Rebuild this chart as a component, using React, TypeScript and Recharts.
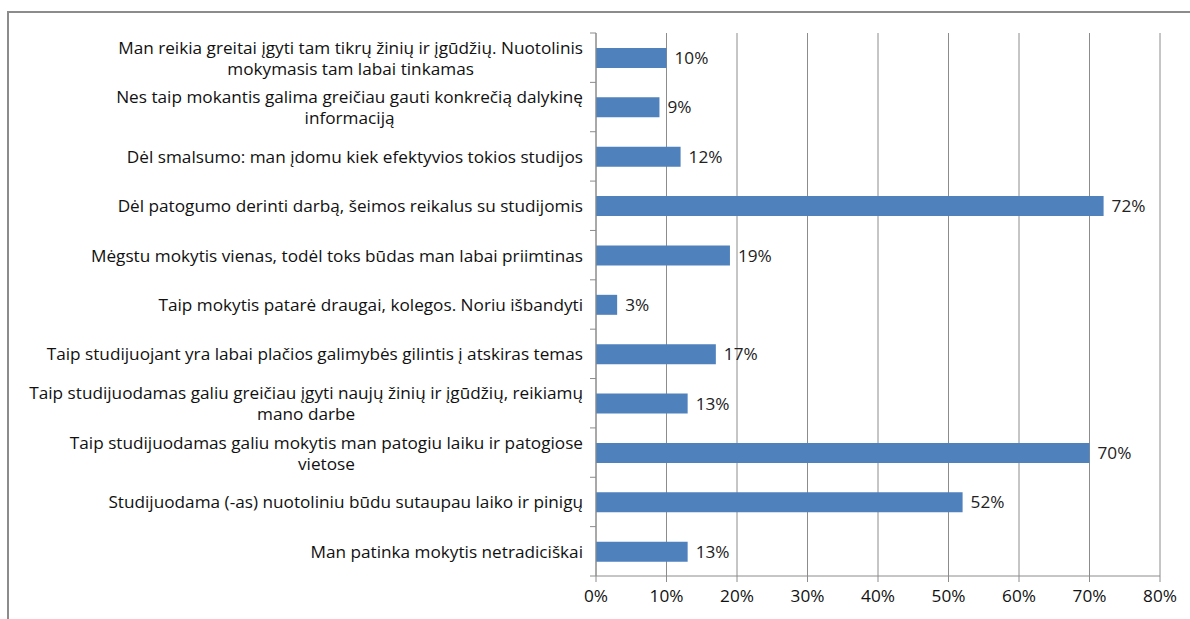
import { Bar, BarChart, CartesianGrid, LabelList, XAxis, YAxis } from 'recharts'

const categories = [
  'Man reikia greitai įgyti tam tikrų žinių ir įgūdžių. Nuotolinis\nmokymasis tam labai tinkamas',
  'Nes taip mokantis galima greičiau gauti konkrečią dalykinę\ninformaciją',
  'Dėl smalsumo: man įdomu kiek efektyvios tokios studijos',
  'Dėl patogumo derinti darbą, šeimos reikalus su studijomis',
  'Mėgstu mokytis vienas, todėl toks būdas man labai priimtinas',
  'Taip mokytis patarė draugai, kolegos. Noriu išbandyti',
  'Taip studijuojant yra labai plačios galimybės gilintis į atskiras temas',
  'Taip studijuodamas galiu greičiau įgyti naujų žinių ir įgūdžių, reikiamų\nmano darbe',
  'Taip studijuodamas galiu mokytis man patogiu laiku ir patogiose\nvietose',
  'Studijuodama (-as) nuotoliniu būdu sutaupau laiko ir pinigų',
  'Man patinka mokytis netradiciškai',
]
const values = [10, 9, 12, 72, 19, 3, 17, 13, 70, 52, 13]
const xTicks = [0, 10, 20, 30, 40, 50, 60, 70, 80]

const data = categories.map((label, i) => ({ label, value: values[i] }))

const FONT = '"Open Sans", Lato, sans-serif'
const FONT_SIZE = 17.2
const PLOT_H = 543
const GRAY = '#8c8c8c'

let ctx: CanvasRenderingContext2D | null = null
function textWidth(s: string) {
  if (!ctx) ctx = document.createElement('canvas').getContext('2d')
  if (!ctx) return s.length * 8
  ctx.font = `${FONT_SIZE}px ${FONT}`
  return ctx.measureText(s).width
}

// multi-line category label: block right-aligned, lines centred on each other,
// plus the little boundary tick marks Excel draws between categories
function CategoryTick(props: any) {
  const { x, y, payload, index } = props
  const lines: string[] = String(payload.value).split('\n')
  const w = Math.max(...lines.map(textWidth))
  const right = x - 13
  const step = PLOT_H / categories.length
  const lineH = 21
  return (
    <g>
      {lines.map((ln, i) => (
        <text
          key={i}
          x={right - w / 2}
          y={y + (i - (lines.length - 1) / 2) * lineH}
          textAnchor="middle"
          dominantBaseline="central"
          fontFamily={FONT}
          fontSize={FONT_SIZE}
          fill="#111"
        >
          {ln}
        </text>
      ))}
      <line x1={x - 6} x2={x} y1={y - step / 2} y2={y - step / 2} stroke={GRAY} />
      {index === categories.length - 1 && (
        <line x1={x - 6} x2={x} y1={y + step / 2} y2={y + step / 2} stroke={GRAY} />
      )}
    </g>
  )
}

export default function App() {
  return (
    <div style={{ position: 'absolute', left: 0, top: 0, width: 1190, height: 619, background: '#fff', overflow: 'hidden' }}>
      <div
        style={{
          position: 'absolute',
          left: 7,
          top: 11,
          width: 1200,
          height: 640,
          borderLeft: `2px solid ${GRAY}`,
          borderTop: `2px solid ${GRAY}`,
        }}
      />
      <div style={{ position: 'absolute', left: 0, top: 0 }}>
        <BarChart
          width={1190}
          height={619}
          data={data}
          layout="vertical"
          margin={{ top: 33, right: 30, bottom: 13, left: 0 }}
          barSize={20}
        >
          <CartesianGrid horizontal={false} stroke={GRAY} />
          <XAxis
            type="number"
            domain={[0, 80]}
            ticks={xTicks}
            tickFormatter={(v: number) => `${v}%`}
            stroke={GRAY}
            tickSize={6}
            tickMargin={8}
            height={30}
            tick={{ fill: '#111', fontFamily: FONT, fontSize: FONT_SIZE }}
          />
          <YAxis
            type="category"
            dataKey="label"
            width={596}
            stroke={GRAY}
            tickLine={false}
            tickSize={0}
            tickMargin={0}
            interval={0}
            tick={<CategoryTick />}
          />
          <Bar dataKey="value" fill="#4f81bd" isAnimationActive={false}>
            <LabelList
              dataKey="value"
              position="right"
              offset={8}
              formatter={(v: any) => `${v}%`}
              fill="#222"
              fontFamily={FONT}
              fontSize={FONT_SIZE}
            />
          </Bar>
        </BarChart>
      </div>
    </div>
  )
}
